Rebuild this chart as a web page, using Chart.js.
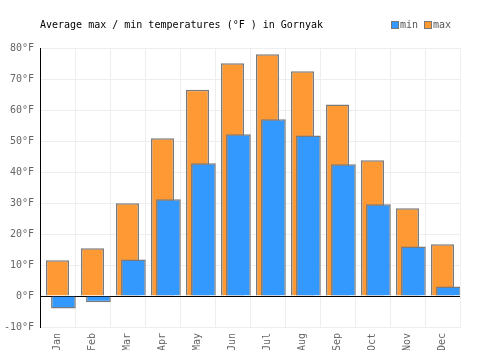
<!DOCTYPE html>
<html>
<head>
<meta charset="utf-8">
<script src="https://cdn.jsdelivr.net/npm/chart.js@4/dist/chart.umd.min.js"></script>
<style>
  html, body { margin: 0; padding: 0; background: #fff; }
  #wrap { position: relative; width: 500px; height: 350px; overflow: hidden; }
  #title { position: absolute; left: 40px; top: 19px; font: 10px "DejaVu Sans Mono", monospace; color: #000; white-space: pre; line-height: 12px; }
  #legend { position: absolute; left: 391px; top: 19px; font: 10px "DejaVu Sans Mono", monospace; color: #555; line-height: 12px; white-space: nowrap; }
  #legend .item { display: inline-block; margin-right: 6px; }
  #legend .box { display: inline-block; width: 6px; height: 6px; border: 1.5px solid #777; vertical-align: -1px; margin-right: 1px; }
</style>
</head>
<body>
<div id="wrap">
  <canvas id="c" width="500" height="350"></canvas>
  <div id="title"></div>
  <div id="legend"></div>
</div>
<script>
const titleText = "Average max / min temperatures (°F ) in Gornyak";
const months = ["Jan","Feb","Mar","Apr","May","Jun","Jul","Aug","Sep","Oct","Nov","Dec"];
const minTemps = [-4.0, -2.0, 11.8, 31.2, 42.8, 52.2, 57.0, 51.8, 42.5, 29.6, 16.0, 3.1];
const maxTemps = [11.5, 15.4, 29.9, 50.9, 66.5, 75.1, 78.0, 72.5, 61.8, 43.8, 28.3, 16.7];
const seriesNames = ["min", "max"];
const seriesColors = ["#3399ff", "#ff9933"];
const yTicks = [-10, 0, 10, 20, 30, 40, 50, 60, 70, 80];

document.getElementById('title').textContent = titleText;
const leg = document.getElementById('legend');
seriesNames.forEach((n, i) => {
  const it = document.createElement('span'); it.className = 'item';
  const b = document.createElement('span'); b.className = 'box'; b.style.background = seriesColors[i];
  it.appendChild(b); it.appendChild(document.createTextNode(n));
  leg.appendChild(it);
});

const shift = 0.169;
const FONT = { family: "DejaVu Sans Mono", size: 10 };

new Chart(document.getElementById('c'), {
  type: 'bar',
  data: {
    labels: months,
    datasets: [
      {
        label: seriesNames[0],
        data: minTemps.map((v, i) => ({ x: i, y: v })),
        xAxisID: 'x2',
        backgroundColor: seriesColors[0],
        borderColor: '#7a7a7a',
        borderWidth: 1.5,
        grouped: false,
        categoryPercentage: 1,
        barPercentage: 0.706
      },
      {
        label: seriesNames[1],
        data: maxTemps,
        xAxisID: 'x',
        backgroundColor: seriesColors[1],
        borderColor: '#7a7a7a',
        borderWidth: 1.5,
        grouped: false,
        categoryPercentage: 1,
        barPercentage: 0.657
      }
    ]
  },
  options: {
    responsive: false,
    animation: false,
    devicePixelRatio: 1,
    layout: { padding: { left: 0, right: 40, top: 48, bottom: 0 } },
    plugins: { legend: { display: false }, title: { display: false }, tooltip: { enabled: false } },
    scales: {
      x: {
        type: 'category',
        offset: true,
        grid: { color: '#eeeeee', lineWidth: 1, offset: true, drawTicks: false },
        border: { color: '#eeeeee' },
        ticks: { font: FONT, color: '#666', minRotation: 90, maxRotation: 90, padding: 6, autoSkip: false },
        afterFit: s => { s.height = 23; }
      },
      x2: {
        type: 'linear',
        display: false,
        offset: false,
        min: -0.5 - shift,
        max: 11.5 - shift
      },
      y: {
        min: -10, max: 80,
        afterBuildTicks: s => { s.ticks = yTicks.map(v => ({ value: v })); },
        grid: {
          color: c => (c.tick && c.tick.value === 0) ? '#000000' : '#eeeeee',
          lineWidth: 1,
          drawTicks: false
        },
        border: { color: '#000000', width: 1 },
        ticks: { font: FONT, color: '#666', padding: 6, callback: v => v + '°F' },
        afterFit: s => { s.width = 40; }
      }
    }
  }
});
</script>
</body>
</html>
